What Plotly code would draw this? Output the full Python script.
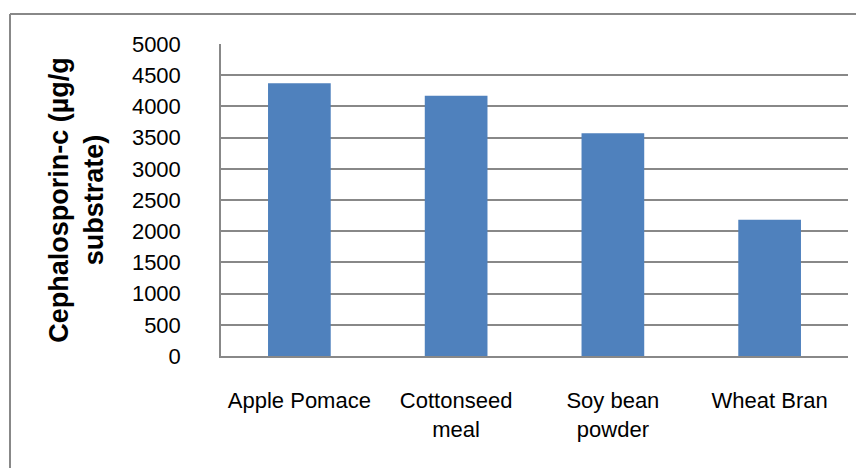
import plotly.graph_objects as go

categories = ["Apple Pomace", "Cottonseed<br>meal", "Soy bean<br>powder", "Wheat Bran"]
values = [4370, 4170, 3570, 2185]
y_ticks = [0, 500, 1000, 1500, 2000, 2500, 3000, 3500, 4000, 4500, 5000]
y_title = "Cephalosporin-c (µg/g<br>substrate)"

FONT = "Liberation Sans, Arial, sans-serif"

# page body has an 8px margin, so the figure is 8px smaller than the window
W, H = 856, 460
L, T, R, B = 213, 36, 16, 112
PW, PH = W - L - R, H - T - B

fig = go.Figure(go.Bar(
    x=categories, y=values,
    marker=dict(color="#4F81BD", line=dict(width=0)),
    showlegend=False,
))

bx = (2 - L) / PW
by = (T + PH - 6) / PH

fig.update_layout(
    width=W, height=H,
    margin=dict(l=L, r=R, t=T, b=B),
    paper_bgcolor="white", plot_bgcolor="white",
    bargap=0.6,
    font=dict(family=FONT, size=22, color="black"),
    xaxis=dict(
        automargin=False,
        showline=True, linecolor="#888888", linewidth=1.5,
        showgrid=False, ticks="", ticklabelstandoff=24,
        tickfont=dict(size=22),
    ),
    yaxis=dict(
        automargin=False,
        range=[0, 5000], tickvals=y_ticks,
        showline=True, linecolor="#888888", linewidth=1.5,
        showgrid=True, gridcolor="#888888", gridwidth=1.5,
        ticks="", ticklabelstandoff=34,
        tickfont=dict(size=22),
        zeroline=False,
        title=dict(text=y_title, font=dict(size=27, family=FONT, weight="bold"), standoff=20),
    ),
    shapes=[
        dict(type="line", xref="paper", yref="paper",
             x0=bx, x1=1.1, y0=by, y1=by,
             line=dict(color="#888888", width=2)),
        dict(type="line", xref="paper", yref="paper",
             x0=bx, x1=bx, y0=by, y1=-0.5,
             line=dict(color="#888888", width=2)),
    ],
)

fig.write_html("out.html")
